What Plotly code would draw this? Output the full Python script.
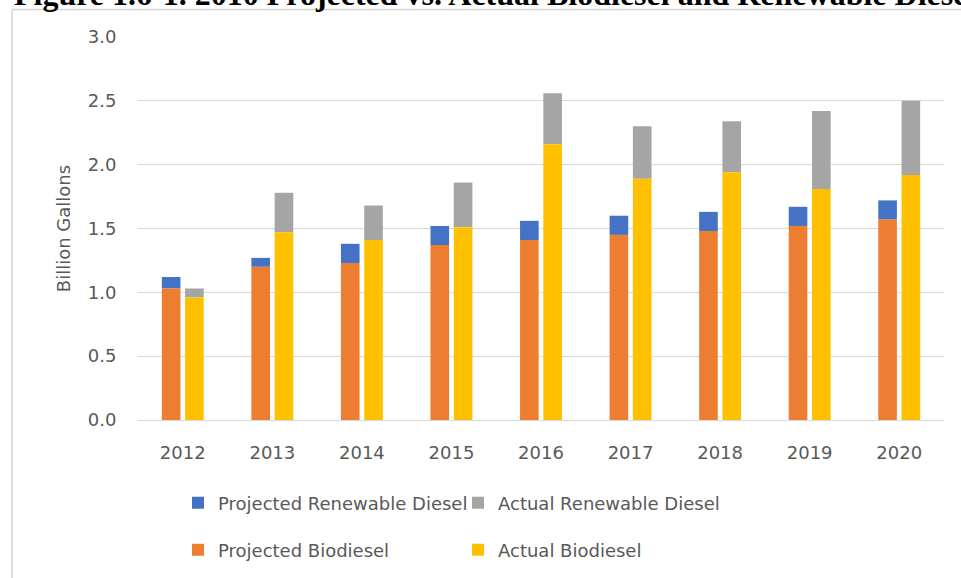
import plotly.graph_objects as go

years = ['2012', '2013', '2014', '2015', '2016', '2017', '2018', '2019', '2020']
proj_bio = [1.03, 1.20, 1.23, 1.37, 1.41, 1.45, 1.48, 1.52, 1.57]
proj_rd = [0.09, 0.07, 0.15, 0.15, 0.15, 0.15, 0.15, 0.15, 0.15]
act_bio = [0.96, 1.47, 1.41, 1.51, 2.16, 1.89, 1.94, 1.81, 1.92]
act_rd = [0.07, 0.31, 0.27, 0.35, 0.40, 0.41, 0.40, 0.61, 0.58]
y_ticks = [0.0, 0.5, 1.0, 1.5, 2.0, 2.5, 3.0]
title_text = "Figure 1.6-1. 2010 Projected vs. Actual Biodiesel and Renewable Diesel"

W, H = 961, 578
L, R, T, B = 138, 17, 37, 158
pw, ph = W - L - R, H - T - B

def px(x):
    return (x - L) / pw

def py(y):
    return (H - B - y) / ph

FONT = "DejaVu Sans"
GREY = "#595959"

fig = go.Figure()
fig.add_trace(go.Bar(x=years, y=proj_rd, base=proj_bio, name="Projected Renewable Diesel",
                     offsetgroup="p", marker_color="#4472C4", legend="legend"))
fig.add_trace(go.Bar(x=years, y=act_rd, base=act_bio, name="Actual Renewable Diesel",
                     offsetgroup="a", marker_color="#A5A5A5", legend="legend"))
fig.add_trace(go.Bar(x=years, y=proj_bio, name="Projected Biodiesel",
                     offsetgroup="p", marker_color="#ED7D31", legend="legend2"))
fig.add_trace(go.Bar(x=years, y=act_bio, name="Actual Biodiesel",
                     offsetgroup="a", marker_color="#FFC000", legend="legend2"))

fig.update_traces(marker_line_width=0)

legend_common = dict(orientation="h", xanchor="left", yanchor="middle",
                     font=dict(family=FONT, size=18, color=GREY),
                     entrywidth=235, bgcolor="rgba(0,0,0,0)", traceorder="normal")

fig.update_layout(
    width=W, height=H,
    margin=dict(l=L, r=R, t=T, b=B, autoexpand=False),
    paper_bgcolor="white", plot_bgcolor="white",
    barmode="group", bargap=0.48, bargroupgap=0.2,
    font=dict(family=FONT, size=18, color=GREY),
    xaxis=dict(type="category", showgrid=False, showline=False, zeroline=False,
               ticks="outside", ticklen=16, tickcolor="rgba(0,0,0,0)",
               tickfont=dict(family=FONT, size=18, color=GREY)),
    yaxis=dict(range=[0, 3], tickvals=y_ticks, ticktext=[f"{v:.1f}" for v in y_ticks],
               showgrid=True, gridcolor="#D9D9D9", gridwidth=1,
               zeroline=True, zerolinecolor="#D9D9D9", zerolinewidth=1, showline=False,
               ticks="outside", ticklen=17, tickcolor="rgba(0,0,0,0)",
               tickfont=dict(family=FONT, size=18, color=GREY),
               title=dict(text="Billion Gallons", standoff=12,
                          font=dict(family=FONT, size=18, color=GREY))),
    legend=dict(x=px(178), y=py(503), **legend_common),
    legend2=dict(x=px(178), y=py(550), **legend_common),
    showlegend=True,
)

# chart area border (partially visible)
fig.add_shape(type="line", xref="paper", yref="paper",
              x0=px(12), x1=px(12), y0=py(9.5), y1=py(700),
              line=dict(color="#D4D4D4", width=1.5))
fig.add_shape(type="line", xref="paper", yref="paper",
              x0=px(12), x1=px(1100), y0=py(9.5), y1=py(9.5),
              line=dict(color="#D4D4D4", width=1.5))

fig.add_annotation(text="<b>" + title_text + "</b>", xref="paper", yref="paper",
                   x=px(12), y=py(-6), xanchor="left", yanchor="middle", showarrow=False,
                   font=dict(family="Liberation Serif", size=32, color="black"))

fig.write_html("out.html", config={"displayModeBar": False},
               post_script="document.body.style.margin='0';document.body.style.overflow='hidden';")
